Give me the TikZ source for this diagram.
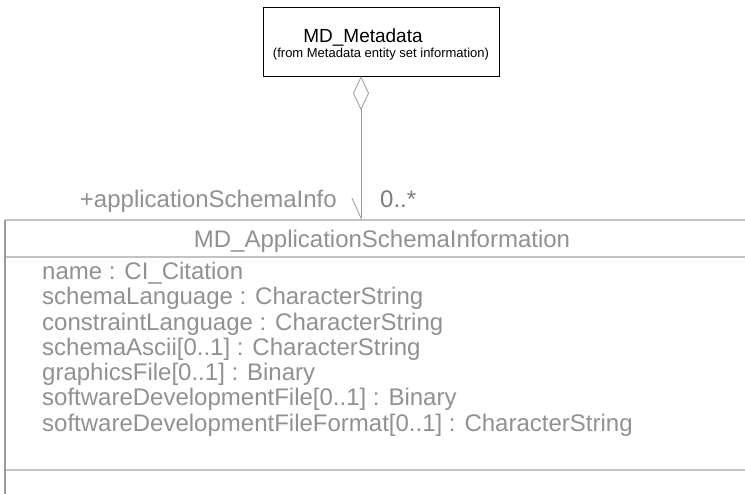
\documentclass[tikz,border=0pt]{standalone}
\usepackage{fontspec}
\setmainfont{Liberation Sans}
\usetikzlibrary{positioning,arrows.meta}
\definecolor{umltext}{RGB}{145,145,145}
\definecolor{umlline}{RGB}{195,195,195}
\definecolor{umledge}{RGB}{155,155,155}

\begin{document}
\begin{tikzpicture}[x=1pt, y=-1pt, node distance={25.3pt},
    main/.style = {draw, rectangle, inner sep=0pt},
    attr/.style = {inner sep=0pt, text=umltext, font=\fontsize{24}{26}\selectfont},
    role/.style = {inner sep=0pt, font=\fontsize{24}{26}\selectfont}]
        \useasboundingbox[fill=white] (0,0) rectangle (745,494);

        % class MD_Metadata
        \node[main, minimum width=236pt, minimum height=69pt] (1) at (381,41.5) {};
        \node[inner sep=0pt, anchor=base, font=\fontsize{19}{20}\selectfont] (1a) at (363,42.5) {MD\_Metadata};
        \node[inner sep=0pt, anchor=base, font=\fontsize{13}{15}\selectfont] (1b) at (381,57.5) {(from Metadata entity set information)};

        % class MD_ApplicationSchemaInformation (runs off the page)
        \draw[umlline, line width=1.6pt] (5,220) -- (745,220);
        \draw[umlline, line width=1.6pt] (5,257) -- (745,257);
        \draw[umlline, line width=1.6pt] (5,470) -- (745,470);
        \draw[umledge, line width=1.4pt] (5,220) -- (5,494);
        \node[attr, anchor=base] (2) at (382,248) {MD\_ApplicationSchemaInformation};

        \node[attr, anchor=base west] (3) at (42,279.5) {name : CI\_Citation};
        \node[attr] (4) [below=of 3.base west, anchor=base west] {schemaLanguage : CharacterString};
        \node[attr] (5) [below=of 4.base west, anchor=base west] {constraintLanguage : CharacterString};
        \node[attr] (6) [below=of 5.base west, anchor=base west] {schemaAscii[0..1] : CharacterString};
        \node[attr] (7) [below=of 6.base west, anchor=base west] {graphicsFile[0..1] : Binary};
        \node[attr] (8) [below=of 7.base west, anchor=base west] {softwareDevelopmentFile[0..1] : Binary};
        \node[attr] (9) [below=of 8.base west, anchor=base west] {softwareDevelopmentFileFormat[0..1] : CharacterString};

        % aggregation
        \coordinate (10) at (361,220);
        \draw[umledge, line width=0.8pt,
              {Diamond[open, length=34pt, width=16pt]}-{Straight Barb[right, length=20pt, width=18pt]}]
            (10 |- 1.south) -- (10);

        \node[role, text=umltext, anchor=base east] (11) at (337,208) {+applicationSchemaInfo};
        \node[role, text=umledge!80!black, anchor=base west] (12) at (380,208) {0..*};

    \end{tikzpicture}
\end{document}
